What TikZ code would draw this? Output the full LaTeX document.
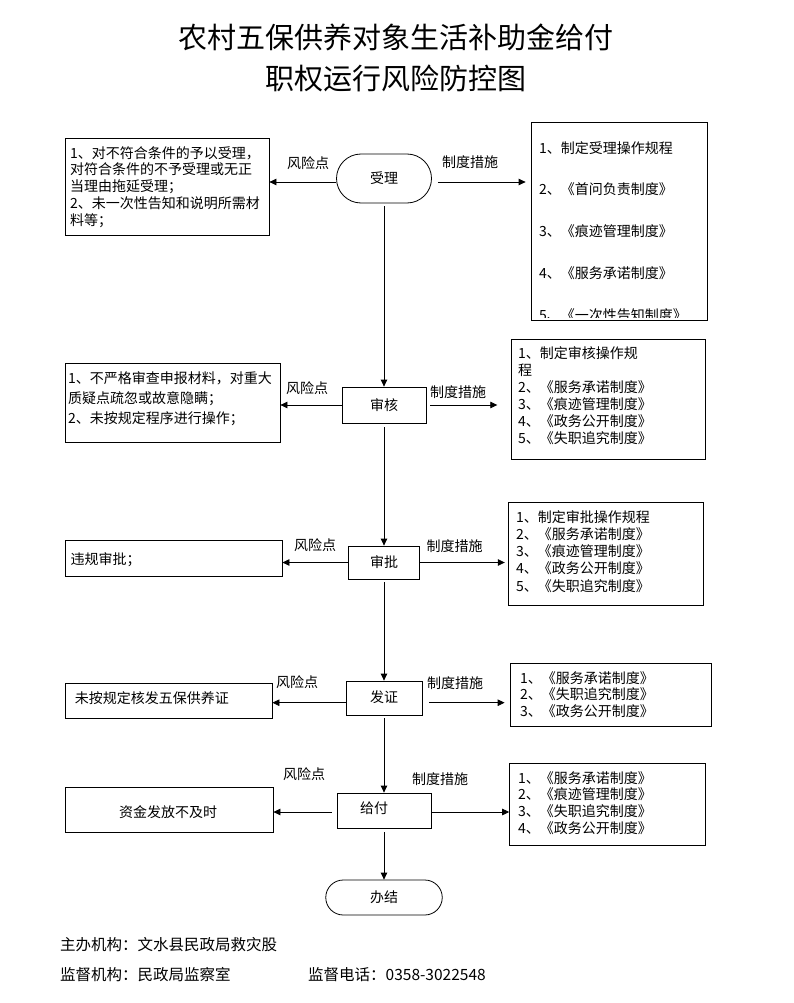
\documentclass[tikz,border=0pt]{standalone}
\usepackage{fontspec}
\setmainfont{Noto Sans CJK SC}
\usetikzlibrary{arrows.meta,shapes.misc}
\begin{document}
\begin{tikzpicture}[x=1pt,y=-1pt,
  box/.style={draw,line width=0.8pt,inner sep=0},
  stad/.style={draw,line width=0.8pt,rounded rectangle,inner sep=0,font=\fontsize{14}{17}\selectfont},
  stepbox/.style={draw,line width=0.8pt,inner sep=0,font=\fontsize{14}{17}\selectfont},
  txt/.style={inner sep=0,anchor=north west,align=left},
  lab/.style={inner sep=0,font=\fontsize{14}{17}\selectfont},
  arr/.style={draw,line width=0.8pt,-{Triangle[length=7pt,width=6.5pt]}},
  ttl/.style={inner sep=0,font=\fontsize{29}{29}\selectfont},
  foot/.style={inner sep=0,anchor=west,font=\fontsize{15.5}{17}\selectfont}]
\useasboundingbox (0,0) rectangle (793,1003);
\fill[white] (0,0) rectangle (793,1003);

% title
\node[ttl] (t1) at (396,37) {农村五保供养对象生活补助金给付};
\node[ttl] (t2) at (396,78) {职权运行风险防控图};

% ---------- row 1 ----------
\node[stad,minimum width=95,minimum height=49] (s1) at (384,178.5) {受理};
\node[box,minimum width=204,minimum height=97] (L1) at (167,186.5) {};
\node[txt,font=\fontsize{14}{16.75}\selectfont] (L1t) at (70,146)
  {1、对不符合条件的予以受理，\\对符合条件的不予受理或无正\\当理由拖延受理；\\2、未一次性告知和说明所需材\\料等；};
\node[box,minimum width=176,minimum height=198] (R1) at (619,221) {};
\begin{scope}
\clip ([xshift=1pt]R1.north west) rectangle ([yshift=3pt]R1.south east);
\node[txt,font=\fontsize{14}{41.75}\selectfont] (R1t) at (539,141)
  {1、制定受理操作规程\\2、《首问负责制度》\\3、《痕迹管理制度》\\4、《服务承诺制度》\\5、《一次性告知制度》};
\end{scope}
\node[lab] (k1) at (308,163) {风险点};
\node[lab] (m1) at (470,162) {制度措施};
\draw[arr] ([yshift=-3.5pt]s1.west) -- ([yshift=-3.5pt]s1.west -| L1.east);
\draw[arr,shorten <=6pt,shorten >=5pt] ([yshift=-3.5pt]s1.east) -- ([yshift=-3.5pt]s1.east -| R1.west);

% ---------- row 2 ----------
\node[stepbox,minimum width=84,minimum height=36] (b2) at (384,405) {审核};
\node[box,minimum width=215,minimum height=79] (L2) at (172.5,402.5) {};
\node[txt,font=\fontsize{14}{20}\selectfont] (L2t) at (68,371)
  {1、不严格审查申报材料，对重大\\质疑点疏忽或故意隐瞒；\\2、未按规定程序进行操作；};
\node[box,minimum width=193.3,minimum height=120] (R2) at (608.35,399) {};
\node[txt,font=\fontsize{14}{17}\selectfont] (R2t) at (518,346)
  {1、制定审核操作规\\程\\2、《服务承诺制度》\\3、《痕迹管理制度》\\4、《政务公开制度》\\5、《失职追究制度》};
\node[lab] (k2) at (307,388) {风险点};
\node[lab] (m2) at (458,392) {制度措施};
\draw[arr] (b2.west) -- (b2.west -| L2.east);
\draw[arr,shorten <=4pt,shorten >=14pt] (b2.east) -- (b2.east -| R2.west);
\draw[arr,shorten <=3pt] (s1.south) -- (b2.north);

% ---------- row 3 ----------
\node[stepbox,minimum width=71,minimum height=33] (b3) at (384,562.5) {审批};
\node[box,minimum width=217,minimum height=36] (L3) at (173.5,558) {};
\node[lab,anchor=west] (L3t) at (70.5,560) {违规审批；};
\node[box,minimum width=194.3,minimum height=103] (R3) at (605.85,553.5) {};
\node[txt,font=\fontsize{14}{17.25}\selectfont] (R3t) at (516,510)
  {1、制定审批操作规程\\2、《服务承诺制度》\\3、《痕迹管理制度》\\4、《政务公开制度》\\5、《失职追究制度》};
\node[lab] (k3) at (315,545) {风险点};
\node[lab] (m3) at (454.5,546) {制度措施};
\draw[arr] (b3.west) -- (b3.west -| L3.east);
\draw[arr,shorten >=3.5pt] (b3.east) -- (b3.east -| R3.west);
\draw[arr,shorten <=4pt] (b2.south) -- (b3.north);

% ---------- row 4 ----------
\node[stepbox,minimum width=76,minimum height=34] (b4) at (384,698) {\raisebox{3pt}{发证}};
\node[box,minimum width=207,minimum height=35] (L4) at (168.5,700.5) {};
\node[lab,anchor=west] (L4t) at (74.7,698) {未按规定核发五保供养证};
\node[box,minimum width=201,minimum height=63] (R4) at (610.5,694.5) {};
\node[txt,font=\fontsize{14}{16.5}\selectfont] (R4t) at (520,671)
  {1、《服务承诺制度》\\2、《失职追究制度》\\3、《政务公开制度》};
\node[lab] (k4) at (297,682) {风险点};
\node[lab] (m4) at (455,683) {制度措施};
\draw[arr] ([yshift=-4.7pt]b4.west) -- ([yshift=-4.7pt]b4.west -| L4.east);
\draw[arr,shorten <=7pt,shorten >=5pt] ([yshift=-4.7pt]b4.east) -- ([yshift=-4.7pt]b4.east -| R4.west);
\draw[arr,shorten <=3pt] (b3.south) -- (b4.north);

% ---------- row 5 ----------
\node[stepbox,minimum width=94,minimum height=35] (b5) at (384,810.5) {};
\node[lab] (b5t) at (374,808) {给付};
\node[box,minimum width=208,minimum height=45] (L5) at (169,809.5) {};
\node[lab] (L5t) at (168,812) {资金发放不及时};
\node[box,minimum width=195.4,minimum height=82] (R5) at (607.3,804) {};
\node[txt,font=\fontsize{14}{16.7}\selectfont] (R5t) at (518,771)
  {1、《服务承诺制度》\\2、《痕迹管理制度》\\3、《失职追究制度》\\4、《政务公开制度》};
\node[lab] (k5) at (304,774) {风险点};
\node[lab] (m5) at (440,779) {制度措施};
\draw[arr,shorten <=5pt] ([yshift=-1.5pt]b5.west) -- ([yshift=-1.5pt]b5.west -| L5.east);
\draw[arr] ([yshift=-1.5pt]b5.east) -- ([yshift=-1.5pt]b5.east -| R5.west);
\draw[arr,shorten <=3pt] (b4.south) -- (b5.north);

% ---------- end ----------
\node[stad,minimum width=116.5,minimum height=35] (e) at (384,897.5) {\raisebox{-4pt}{办结}};
\draw[arr,shorten <=4pt] (b5.south) -- (e.north);

% footer
\node[foot] (f1) at (60,945) {主办机构：文水县民政局救灾股};
\node[foot] (f2) at (60,975) {监督机构：民政局监察室};
\node[foot] (f3) at (308,975) {监督电话：0358-3022548};
\end{tikzpicture}
\end{document}
